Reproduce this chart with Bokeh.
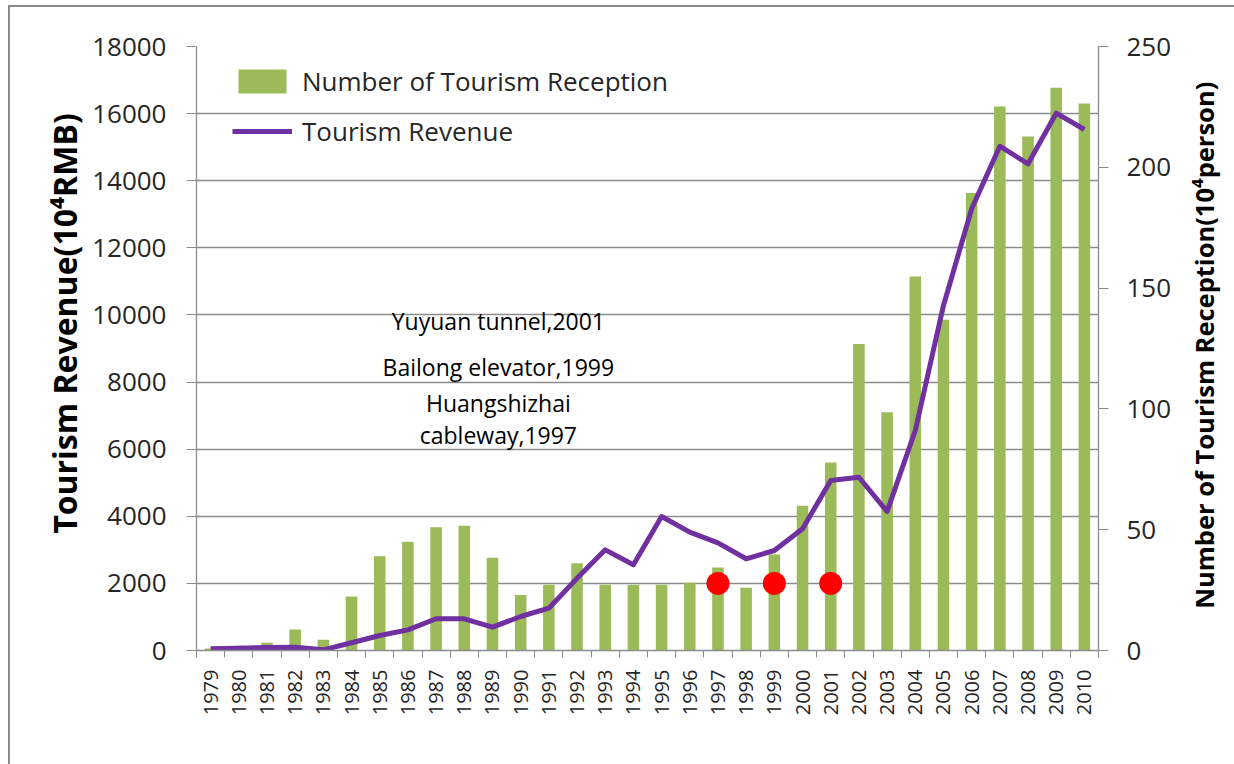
import math
from bokeh.plotting import figure
from bokeh.layouts import row
from bokeh.models import (Range1d, LinearAxis, FixedTicker, Legend, LegendItem, Label,
                          ColumnDataSource)
from bokeh.embed import file_html
from bokeh.resources import INLINE

# ---------------- data ----------------
years = list(range(1979, 2011))
reception = [0.8, 2.0, 3.2, 8.7, 4.4, 22.4, 39.0, 45.0, 51.0, 51.6, 38.4, 23.0, 27.2, 36.1,
             27.2, 27.2, 27.2, 28.0, 34.4, 26.0, 39.7, 59.9, 77.8, 126.9, 98.6, 154.8,
             136.9, 189.4, 225.2, 212.7, 232.9, 226.4]
revenue = [50, 70, 90, 100, 20, 230, 447, 616, 945, 945, 695, 1013, 1261, 2150, 3000, 2554,
           3993, 3526, 3209, 2733, 2980, 3626, 5066, 5164, 4142, 6556, 10281, 13163, 15028,
           14503, 16012, 15526]
milestone_years = [1997, 1999, 2001]
milestone_level = [2000, 2000, 2000]
annotations = ["Yuyuan tunnel,2001", "Bailong elevator,1999", "Huangshizhai", "cableway,1997"]
left_ticks = list(range(0, 18001, 2000))
right_ticks = list(range(0, 251, 50))
left_title = "Tourism Revenue(10⁴RMB)"
right_title = "Number of Tourism Reception(10⁴person)"

FONT = "Open Sans"
TXT = "#262626"
GRID = "#8c8c8c"
GREEN = "#9BBB59"
PURPLE = "#7030A0"

H = 757
TOP, BOTTOM = 39, 114
xs = [i for i in range(len(years))]
src = ColumnDataSource(dict(x=xs, rec=reception, rev=revenue))

# ---------------- main chart ----------------
p = figure(width=1173, height=H, output_backend="svg", toolbar_location=None,
           x_range=Range1d(-0.5, len(years) - 0.5), y_range=Range1d(0, 18000),
           min_border_left=186, min_border_right=85, min_border_top=TOP,
           min_border_bottom=BOTTOM)
p.extra_y_ranges = {"rec": Range1d(0, 250)}
p.outline_line_color = None
p.background_fill_color = "white"
p.border_fill_color = "white"

bars = p.vbar(x="x", top="rec", width=0.41, source=src, y_range_name="rec",
              fill_color=GREEN, line_color=None)
line = p.line(x="x", y="rev", source=src, line_color=PURPLE, line_width=5,
              line_join="round")

mx = [years.index(y) for y in milestone_years]
p.scatter(mx, milestone_level, size=23, fill_color="#FF0000", line_color=None)

p.xgrid.visible = False
p.ygrid.ticker = FixedTicker(ticks=left_ticks)
p.ygrid.grid_line_color = GRID
p.ygrid.grid_line_width = 1.3

xa = p.xaxis[0]
xa.ticker = FixedTicker(ticks=xs, minor_ticks=[i - 0.5 for i in range(len(years) + 1)])
xa.major_label_overrides = {i: str(y) for i, y in zip(xs, years)}
xa.major_label_orientation = math.pi / 2
xa.major_tick_out = 0
xa.major_tick_in = 0
xa.minor_tick_out = 7
xa.minor_tick_in = 0
xa.minor_tick_line_color = GRID
xa.axis_line_color = GRID
xa.axis_line_width = 1.3
xa.major_label_standoff = 12
xa.major_label_text_font = FONT
xa.major_label_text_font_size = "20px"
xa.major_label_text_color = TXT

ya = p.yaxis[0]
ya.ticker = FixedTicker(ticks=left_ticks)
ya.minor_tick_line_color = None
ya.major_tick_out = 10
ya.major_tick_in = 0
ya.major_tick_line_color = GRID
ya.axis_line_color = GRID
ya.axis_line_width = 1.3
ya.major_label_standoff = 20
ya.major_label_text_font = FONT
ya.major_label_text_font_size = "26px"
ya.major_label_text_color = TXT
# leading no-break spaces lift the (upward-reading) title a little above the axis centre
ya.axis_label = "\u00a0" * 6 + left_title
ya.axis_label_text_font = FONT
ya.axis_label_text_font_style = "bold"
ya.axis_label_text_font_size = "32px"
ya.axis_label_text_color = "black"
ya.axis_label_standoff = 3

ra = LinearAxis(y_range_name="rec", ticker=FixedTicker(ticks=right_ticks))
ra.minor_tick_line_color = None
ra.major_tick_out = 10
ra.major_tick_in = 0
ra.major_tick_line_color = GRID
ra.axis_line_color = GRID
ra.axis_line_width = 1.3
ra.major_label_standoff = 18
ra.major_label_text_font = FONT
ra.major_label_text_font_size = "26px"
ra.major_label_text_color = TXT
p.add_layout(ra, "right")

legend = Legend(items=[LegendItem(label="Number of Tourism Reception", renderers=[bars]),
                       LegendItem(label="Tourism Revenue", renderers=[line])],
                location=(36, 501), orientation="vertical",
                glyph_width=60, glyph_height=30, label_height=30, spacing=14,
                padding=0, margin=0, border_line_color=None, background_fill_alpha=0,
                label_text_font=FONT, label_text_font_size="26px", label_text_color=TXT,
                label_standoff=10)
p.add_layout(legend)

ann_x = 10.21
ann_y = [9820, 8450, 7370, 6430]
for t, yv in zip(annotations, ann_y):
    p.add_layout(Label(x=ann_x, y=yv, text=t, text_align="center", text_baseline="middle",
                       text_font=FONT, text_font_size="23px", text_color="black"))

# ---------------- right strip carrying the upward-reading right title ----------------
s = figure(width=51, height=H, output_backend="svg", toolbar_location=None,
           x_range=Range1d(0, 1), y_range=Range1d(0, 1),
           min_border_left=30, min_border_right=0,
           min_border_top=TOP, min_border_bottom=BOTTOM)
s.outline_line_color = None
s.border_fill_color = "white"
s.background_fill_color = "white"
s.grid.visible = False
s.xaxis.visible = False
ax = s.yaxis[0]
ax.ticker = FixedTicker(ticks=[])
ax.axis_line_color = None
ax.major_tick_line_color = None
ax.minor_tick_line_color = None
ax.axis_label = "\u00a0" + right_title
ax.axis_label_text_font = FONT
ax.axis_label_text_font_style = "bold"
ax.axis_label_text_font_size = "25.5px"
ax.axis_label_text_color = "black"
ax.axis_label_standoff = 0

layout = row(p, s, spacing=0)
layout.styles = {"margin-left": "8px", "margin-top": "5px",
                 "border-left": "2px solid #8c8c8c", "border-top": "2px solid #8c8c8c"}

open("out.html", "w").write(file_html(layout, INLINE))
